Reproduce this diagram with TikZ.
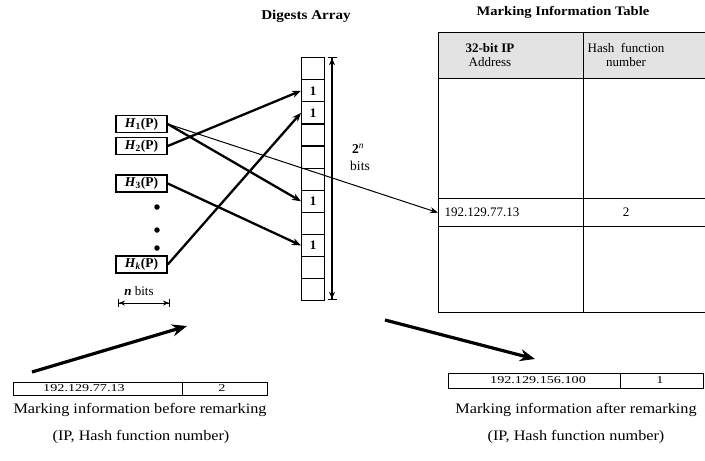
\documentclass[tikz,border=0pt]{standalone}
\usepackage{fontspec}
\setmainfont{Liberation Serif}
\newfontfamily\capfont[FakeStretch=1.12]{Liberation Serif}
\newfontfamily\narrowfont[FakeStretch=1.35]{Liberation Serif}
\usetikzlibrary{arrows.meta}

\tikzset{
  hbox/.style={draw, line width=1.5pt, minimum width=51pt, minimum height=17pt,
    inner sep=0.5pt, font=\bfseries\fontsize{13.5}{14}\selectfont},
  cell/.style={draw, line width=1.2pt, minimum width=23pt, minimum height=22.1pt,
    inner sep=0pt, anchor=north west, font=\bfseries\fontsize{13}{14}\selectfont},
  tcell/.style={draw, line width=1.3pt, anchor=north west, inner sep=0pt},
  bcell/.style={draw, line width=1pt, anchor=north west, inner sep=0pt},
  thick arrow/.style={line width=2.3pt, -{Stealth[length=9pt,width=7pt]}},
  big arrow/.style={line width=3.2pt, -{Stealth[length=15pt,width=12pt]}},
  title/.style={font=\bfseries\capfont\fontsize{13.5}{15}\selectfont},
  caption/.style={font=\capfont\fontsize{14.5}{16}\selectfont},
  hdr/.style={font=\fontsize{13}{13.5}\selectfont, align=center},
  dot/.style={circle, fill, inner sep=0pt, minimum size=5.5pt},
}

\begin{document}
\begin{tikzpicture}[x=1pt, y=-1pt]
\useasboundingbox (0,0) rectangle (705,461);
\clip (0,0) rectangle (705,461);

% titles
\node[title] (ttlarr) at (306,16) {Digests Array};
\node[title, font=\bfseries\capfont\fontsize{13}{15}\selectfont] (ttltab) at (563,12) {Marking Information Table};

% digests array: eleven cells
\foreach \i/\t in {1/,2/1,3/1,4/,5/,6/,7/1,8/,9/1,10/,11/} {
  \node[cell] (c\i) at (301,{57+22.1*(\i-1)}) {\t};
}

% 2^n size marker
\coordinate (dtop) at (332,57);
\coordinate (dbot) at (332,300);
\draw[line width=1.2pt, {Bar[width=9pt]Stealth[length=7pt,width=6pt]}-{Stealth[length=7pt,width=6pt]Bar[width=9pt]}] (dtop) -- (dbot);
\node[font=\fontsize{13.5}{14}\selectfont] (dlbl1) at (358,149) {\textbf{2}\textsuperscript{\textit{n}}};
\node[font=\fontsize{13.5}{14}\selectfont] (dlbl2) at (360,166) {bits};

% hash function outputs
\node[hbox] (h1) at (141.5,124) {\textit{H}\textsubscript{1}(P)};
\node[hbox] (h2) at (141.5,146) {\textit{H}\textsubscript{2}(P)};
\node[hbox] (h3) at (141.5,183.5) {\textit{H}\textsubscript{3}(P)};
\node[hbox] (hk) at (141.5,264.5) {\textit{H}\textsubscript{\textit{k}}(P)};
\node[dot] (d1) at (157,207) {};
\node[dot] (d2) at (157,230) {};
\node[dot] (d3) at (157,248) {};

% n bits marker
\coordinate (nl) at (118,303);
\coordinate (nr) at (170,303);
\draw[line width=1pt, {Bar[width=8pt]Stealth[length=6pt,width=5pt]}-{Stealth[length=6pt,width=5pt]Bar[width=8pt]}] (nl) -- (nr);
\node[font=\fontsize{13}{14}\selectfont] (nlbl) at (139,291) {\textbf{\textit{n}} bits};

% marking information table
\node[tcell, fill=gray!22, minimum width=145pt, minimum height=46pt] (hd1) at (438,32) {};
\node[tcell, fill=gray!22, minimum width=127pt, minimum height=46pt] (hd2) at (583,32) {};
\node[tcell, minimum width=145pt, minimum height=120pt] (b1a) at (438,78) {};
\node[tcell, minimum width=127pt, minimum height=120pt] (b2a) at (583,78) {};
\node[tcell, minimum width=145pt, minimum height=28pt] (r1) at (438,198) {};
\node[tcell, minimum width=127pt, minimum height=28pt] (r2) at (583,198) {};
\node[tcell, minimum width=145pt, minimum height=86pt] (b1b) at (438,226) {};
\node[tcell, minimum width=127pt, minimum height=86pt] (b2b) at (583,226) {};
\node[hdr] (hd1t) at (490,55) {\textbf{32-bit IP}\\Address};
\node[hdr] (hd2t) at (626,55) {Hash\ \ function\\number};
\node[hdr] (r1t) at (482,212) {192.129.77.13};
\node[hdr] (r2t) at (626,212) {2};

% hash outputs into the array
\draw[thick arrow] (h1.east) -- (c7.west);
\draw[thick arrow] (h2.east) -- (c2.west);
\draw[thick arrow] (h3.east) -- (c9.west);
\draw[thick arrow] (hk.east) -- (c3.west);
\draw[line width=1pt, -{Stealth[length=8pt,width=6pt]}] (h1.east) -- (r1.west);

% marking information before remarking
\coordinate (la1) at (32,372);
\coordinate (la2) at (187,326);
\draw[big arrow] (la1) -- (la2);
\node[bcell, minimum width=169pt, minimum height=13pt] (lb1) at (13,382) {};
\node[bcell, minimum width=85pt, minimum height=13pt] (lb2) at (182,382) {};
\node[font=\narrowfont\fontsize{10.5}{11}\selectfont] (lb1t) at (84,388.5) {192.129.77.13};
\node[font=\narrowfont\fontsize{10.5}{11}\selectfont] (lb2t) at (222,388.5) {2};
\node[caption] (lcap1) at (140,410) {Marking information before remarking};
\node[caption] (lcap2) at (141,437) {(IP, Hash function number)};

% marking information after remarking
\coordinate (ra1) at (385,320);
\coordinate (ra2) at (535,359);
\draw[big arrow] (ra1) -- (ra2);
\node[bcell, minimum width=172pt, minimum height=15pt] (rb1) at (448,373) {};
\node[bcell, minimum width=83pt, minimum height=15pt] (rb2) at (620,373) {};
\node[font=\narrowfont\fontsize{10.5}{11}\selectfont] (rb1t) at (538,380.5) {192.129.156.100};
\node[font=\narrowfont\fontsize{10.5}{11}\selectfont] (rb2t) at (660,380.5) {1};
\node[caption] (rcap1) at (576,410) {Marking information after remarking};
\node[caption] (rcap2) at (576,437) {(IP, Hash function number)};
\end{tikzpicture}
\end{document}
